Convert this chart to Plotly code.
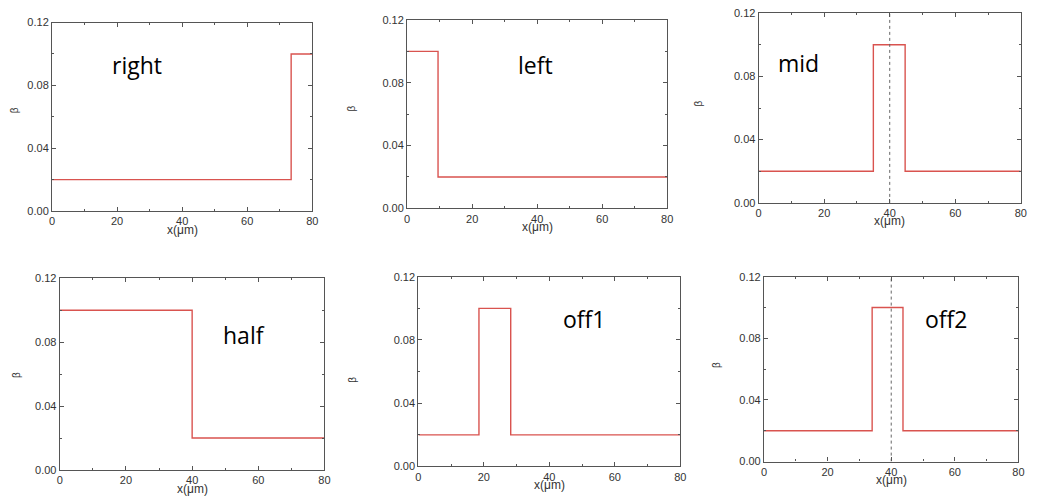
import plotly.graph_objects as go

# Step profiles of beta along x: low background with one raised segment
panel_names = ["right", "left", "mid", "half", "off1", "off2"]
high_start = [73.5, 0.0, 35.0, 0.0, 18.5, 34.0]
high_end = [80.0, 9.5, 44.7, 40.0, 28.2, 43.7]
beta_low = 0.02
beta_high = 0.10
x_min, x_max = 0, 80
center_line_x = 40
center_line_panels = ["mid", "off2"]

x_ticks = [0, 20, 40, 60, 80]
y_ticks = [0.00, 0.04, 0.08, 0.12]

W, H = 1037, 504
# plot-area pixel boxes: left, right, top, bottom
boxes = [
    (49.5, 312, 17, 210),
    (407.7, 670, 14.3, 207.3),
    (762.3, 1026.7, 7.3, 201.7),
    (57.3, 324.3, 279, 475.3),
    (419, 683.3, 277.3, 471.7),
    (767.7, 1024.3, 277.3, 466.7),
]
# name label centres (pixels)
name_pos = [(135, 60), (537, 60), (802, 58), (243, 337), (586, 321), (951, 321)]
beta_pos = [(12, 107), (352, 105), (702, 100), (13, 378), (353, 383), (719, 368)]

line_color = "#d9534f"
axis_color = "#555555"
tick_font = dict(family="Liberation Sans, Arial", size=11, color="#333333")


def step_profile(a, b):
    """Polyline for beta_low everywhere except beta_high on [a, b]."""
    xs, ys = [], []
    if a > x_min:
        xs += [x_min, a]
        ys += [beta_low, beta_low]
    xs += [a, b]
    ys += [beta_high, beta_high]
    if b < x_max:
        xs += [b, x_max]
        ys += [beta_low, beta_low]
    return xs, ys


fig = go.Figure()
annotations = []

for i, name in enumerate(panel_names):
    k = "" if i == 0 else str(i + 1)
    xa, ya = "x" + k, "y" + k
    xs, ys = step_profile(high_start[i], high_end[i])
    fig.add_trace(go.Scatter(x=xs, y=ys, mode="lines", xaxis=xa, yaxis=ya,
                             line=dict(color=line_color, width=1.4),
                             showlegend=False, hoverinfo="skip"))
    if name in center_line_panels:
        fig.add_trace(go.Scatter(x=[center_line_x, center_line_x], y=[y_ticks[0], y_ticks[-1]],
                                 mode="lines", xaxis=xa, yaxis=ya,
                                 line=dict(color="#666666", width=1, dash="dot"),
                                 showlegend=False, hoverinfo="skip"))

    L, R, T, B = boxes[i]
    common = dict(showgrid=False, zeroline=False, showline=True, linecolor=axis_color,
                  linewidth=1.2, mirror="allticks", ticks="inside", ticklen=4,
                  tickcolor=axis_color, tickfont=tick_font)
    fig.layout["xaxis" + k] = dict(domain=[L / W, R / W], range=[x_min, x_max],
                                   tickvals=x_ticks, anchor=ya,
                                   minor=dict(ticks="inside", ticklen=2, dtick=10,
                                              tick0=0, tickcolor=axis_color),
                                   **common)
    fig.layout["yaxis" + k] = dict(domain=[1 - B / H, 1 - T / H], range=[0, 0.12],
                                   tickvals=y_ticks, tickformat=".2f", anchor=xa,
                                   minor=dict(ticks="inside", ticklen=2, dtick=0.02,
                                              tick0=0, tickcolor=axis_color),
                                   **common)

    annotations.append(dict(text=name, x=name_pos[i][0] / W, y=1 - name_pos[i][1] / H,
                            xref="paper", yref="paper", showarrow=False,
                            xanchor="center", yanchor="middle",
                            font=dict(family="Open Sans", size=23, color="black")))
    annotations.append(dict(text="x(μm)", x=(L + R) / 2 / W, y=1 - (B + 19) / H,
                            xref="paper", yref="paper", showarrow=False,
                            xanchor="center", yanchor="middle",
                            font=dict(family="Liberation Sans, Arial", size=12, color="#333333")))
    annotations.append(dict(text="β", x=beta_pos[i][0] / W, y=1 - beta_pos[i][1] / H,
                            xref="paper", yref="paper", showarrow=False, textangle=-90,
                            xanchor="center", yanchor="middle",
                            font=dict(family="Liberation Sans, Arial", size=10, color="#333333")))

fig.update_layout(width=W, height=H, margin=dict(l=0, r=0, t=0, b=0),
                  paper_bgcolor="white", plot_bgcolor="white",
                  annotations=annotations)

fig.write_html("out.html")
